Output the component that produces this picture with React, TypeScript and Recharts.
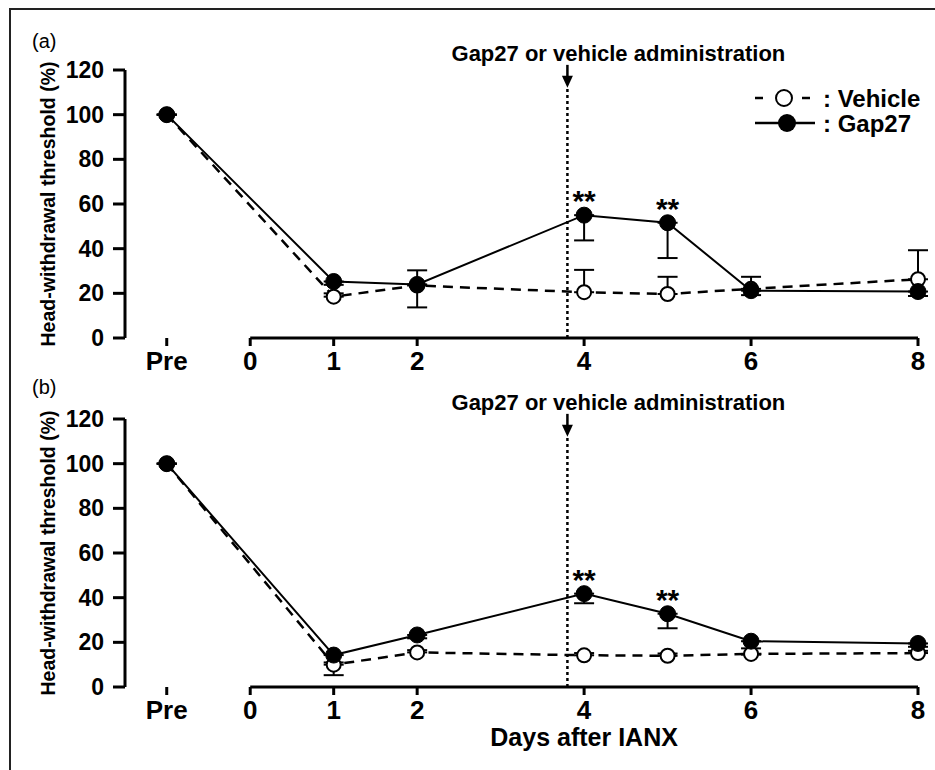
import { LineChart, Line, XAxis, YAxis, ErrorBar, ReferenceLine, Legend, LabelList } from 'recharts'

const FONT = '"Liberation Sans", Arial, Helvetica, sans-serif'

const days = [-1, 1, 2, 4, 5, 6, 8]
const xTicks = [-1, 0, 1, 2, 4, 6, 8]
const yTicks = [0, 20, 40, 60, 80, 100, 120]
const sigMarks = ['', '', '', '**', '**', '', '']

// panel (a)
const vehicleA = [100, 18.5, 23.5, 20.5, 19.7, 22, 26.3]
const vehicleErrA = [0, 1.5, 6.8, 10, 7.7, 5.4, 13]
const gap27A = [100, 25.3, 24, 55, 51.6, 21.2, 20.8]
const gap27ErrA = [0, 1.5, 10.3, 11.3, 15.8, 2, 2]

// panel (b)
const vehicleB = [100, 10, 15.5, 14.2, 14, 14.8, 15.2]
const vehicleErrB = [0, 1, 1, 1, 1, 2.5, 1]
const gap27B = [100, 14.3, 23.3, 41.8, 32.8, 20.5, 19.5]
const gap27ErrB = [0, 9, 1.5, 4.3, 6.5, 6, 1.5]

const ADMIN_DAY = 3.8

function buildRows(veh: number[], vehErr: number[], gap: number[], gapErr: number[]) {
  return days.map((day, i) => ({
    day,
    vehicle: veh[i],
    vehicleErr: [0, vehErr[i]],
    gap27: gap[i],
    gap27Err: [gapErr[i], 0],
    sig: sigMarks[i],
  }))
}

const dataA = buildRows(vehicleA, vehicleErrA, gap27A, gap27ErrA)
const dataB = buildRows(vehicleB, vehicleErrB, gap27B, gap27ErrB)

const ArrowShape = (props: any) => {
  const { x1, y1, y2 } = props
  return (
    <g>
      <line x1={x1} y1={y2} x2={x1} y2={y1 - 8} stroke="#000" strokeWidth={2.5} />
      <path d={`M${x1 - 5.5},${y1 - 12} L${x1 + 5.5},${y1 - 12} L${x1},${y1} Z`} fill="#000" />
      <text x={x1 + 51} y={y2 - 4} textAnchor="middle" fontFamily={FONT} fontWeight={700} fontSize={22} fill="#000">
        Gap27 or vehicle administration
      </text>
    </g>
  )
}

const renderSig = (props: any) => {
  const { x, y, value } = props
  if (!value) return null
  return (
    <text x={x} y={y - 4} textAnchor="middle" fontFamily={FONT} fontWeight={700} fontSize={30} fill="#000">
      {value}
    </text>
  )
}

const LegendBox = () => (
  <svg width={185} height={62} style={{ overflow: 'visible' }}>
    <line x1={5} y1={23} x2={13} y2={23} stroke="#000" strokeWidth={2.5} />
    <circle cx={34} cy={23} r={8} fill="#fff" stroke="#000" strokeWidth={2} />
    <line x1={52} y1={23} x2={60} y2={23} stroke="#000" strokeWidth={2.5} />
    <text x={73} y={31.5} fontFamily={FONT} fontWeight={700} fontSize={24} fill="#000">: Vehicle</text>
    <line x1={5} y1={48} x2={65} y2={48} stroke="#000" strokeWidth={2.5} />
    <circle cx={37} cy={48} r={9} fill="#000" />
    <text x={73} y={56.5} fontFamily={FONT} fontWeight={700} fontSize={24} fill="#000">: Gap27</text>
  </svg>
)

function Panel({ data, height, bottom, withLegend, withTitle }: any) {
  return (
    <LineChart width={935} height={height} data={data} margin={{ top: 70, right: 17, bottom, left: 45 }}>
      <XAxis
        type="number"
        dataKey="day"
        domain={[-1.5, 8]}
        ticks={xTicks}
        interval={0}
        tickFormatter={(v: number) => (v === -1 ? 'Pre' : String(v))}
        axisLine={false}
        tickSize={8}
        tickMargin={6}
        tickLine={{ stroke: '#000', strokeWidth: 3 }}
        tick={{ fill: '#000', fontSize: 26, fontWeight: 700, fontFamily: FONT }}
        height={40}
      />
      <YAxis
        domain={[0, 120]}
        ticks={yTicks}
        interval={0}
        width={80}
        tickSize={12}
        tickMargin={9}
        axisLine={{ stroke: '#000', strokeWidth: 3 }}
        tickLine={{ stroke: '#000', strokeWidth: 3 }}
        tick={{ fill: '#000', fontSize: 23, fontWeight: 700, fontFamily: FONT }}
        label={{
          value: 'Head-withdrawal threshold (%)',
          angle: -90,
          position: 'insideLeft',
          offset: 3,
          style: { textAnchor: 'middle', fontSize: 19.5, fontWeight: 700, fontFamily: FONT, fill: '#000' },
        }}
      />
      <ReferenceLine
        segment={[{ x: 0, y: 0 }, { x: 8, y: 0 }]}
        stroke="#000"
        strokeWidth={3}
        label={
          withTitle
            ? {
                value: 'Days after IANX',
                position: 'bottom',
                offset: 41,
                style: { fontSize: 25, fontWeight: 700, fontFamily: FONT, fill: '#000' },
              }
            : undefined
        }
      />
      <ReferenceLine
        segment={[{ x: ADMIN_DAY, y: 0 }, { x: ADMIN_DAY, y: 112 }]}
        stroke="#000"
        strokeWidth={2.5}
        strokeDasharray="3 3"
      />
      <ReferenceLine
        segment={[{ x: ADMIN_DAY, y: 112 }, { x: ADMIN_DAY, y: 122.3 }]}
        ifOverflow="visible"
        shape={ArrowShape}
      />
      <Line
        dataKey="vehicle"
        stroke="#000"
        strokeWidth={2.5}
        strokeDasharray="10 7"
        dot={{ r: 7, fill: '#fff', stroke: '#000', strokeWidth: 2, strokeDasharray: '0' }}
        isAnimationActive={false}
      >
        <ErrorBar dataKey="vehicleErr" direction="y" width={10} stroke="#000" strokeWidth={2} />
      </Line>
      <Line
        dataKey="gap27"
        stroke="#000"
        strokeWidth={2}
        dot={{ r: 8, fill: '#000', stroke: '#000', strokeWidth: 1 }}
        isAnimationActive={false}
      >
        <ErrorBar dataKey="gap27Err" direction="y" width={10} stroke="#000" strokeWidth={2} />
        <LabelList dataKey="sig" content={renderSig} />
      </Line>
      {withLegend && (
        <Legend
          layout="vertical"
          align="center"
          verticalAlign="middle"
          wrapperStyle={{ left: 750, top: 75, width: 185, height: 62 }}
          content={() => <LegendBox />}
        />
      )}
    </LineChart>
  )
}

const tagStyle: any = { position: 'absolute', left: 32, fontFamily: FONT, fontSize: 20, lineHeight: '20px', color: '#000' }

export default function App() {
  return (
    <div style={{ position: 'absolute', left: 0, top: 0, width: 935, height: 770, background: '#fff', overflow: 'hidden' }}>
      <div style={{ position: 'absolute', left: 9, top: 8, width: 940, height: 780, borderTop: '2px solid #222', borderLeft: '2px solid #222' }} />
      <div style={{ ...tagStyle, top: 31 }}>(a)</div>
      <div style={{ ...tagStyle, top: 377 }}>(b)</div>
      <div style={{ position: 'absolute', left: 0, top: 0 }}>
        <Panel data={dataA} height={380} bottom={2} withLegend withTitle={false} />
      </div>
      <div style={{ position: 'absolute', left: 0, top: 349 }}>
        <Panel data={dataB} height={421} bottom={43} withLegend={false} withTitle />
      </div>
    </div>
  )
}
